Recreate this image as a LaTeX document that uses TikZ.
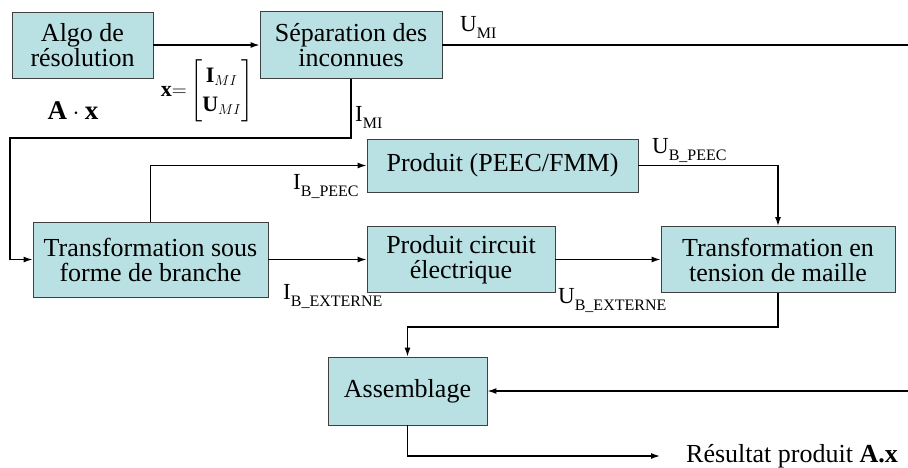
\documentclass[tikz,border=0pt]{standalone}
\usepackage{amsmath}
\usepackage{fontspec}
\setmainfont{Liberation Serif}
\usetikzlibrary{arrows.meta}
\definecolor{bloc}{RGB}{185,224,227}
\newcommand{\grandeur}[2]{#1\raisebox{-7pt}{\fontsize{16}{16}\selectfont #2}}

\begin{document}
\begin{tikzpicture}[x=1pt,y=-1pt,
  boite/.style={draw=black!75,fill=bloc,line width=0.9pt,align=center,inner sep=0pt,
    font=\fontsize{26}{25}\selectfont},
  fleche/.style={line width=1.3pt,-{Latex[length=9pt,width=6pt]}},
  fil/.style={line width=1.3pt},
  lbl/.style={anchor=base west,inner sep=0pt,font=\fontsize{23}{23}\selectfont}]
  \useasboundingbox (0,0) rectangle (908,467);
  % blocs
  \node[boite,minimum width=141,minimum height=66] (algo) at (82.5,45) {Algo de\\résolution};
  \node[boite,minimum width=182,minimum height=67] (sep) at (351,45) {Séparation des\\inconnues};
  \node[boite,minimum width=271,minimum height=53] (peec) at (502.5,165.5) {Produit (PEEC/FMM)};
  \node[boite,minimum width=235,minimum height=75] (branche) at (150.5,259.5) {Transformation sous\\forme de branche};
  \node[boite,minimum width=188,minimum height=66] (circ) at (461,259.5) {Produit circuit\\électrique};
  \node[boite,minimum width=234,minimum height=66] (maille) at (778,259.5) {Transformation en\\tension de maille};
  \node[boite,minimum width=159,minimum height=68] (assem) at (407.5,391) {Assemblage};
  % textes
  \node[font=\fontsize{27}{27}\selectfont,anchor=base] (ax) at (73,119) {$\mathbf{A}\cdot\mathbf{x}$};
  \node[font=\fontsize{22}{26}\selectfont] (vecx) at (207,91)
    {\renewcommand{\arraystretch}{1.1}$\mathbf{x}{=}\begin{bmatrix}\mathbf{I}_{MI}\\ \mathbf{U}_{MI}\end{bmatrix}$};
  \node[lbl] (umi) at (460,31) {\grandeur{U}{MI}};
  \node[lbl] (imi) at (355,121) {\grandeur{I}{MI}};
  \node[lbl] (ipeec) at (293,189) {\grandeur{I}{B\_PEEC}};
  \node[lbl] (iext) at (283,299) {\grandeur{I}{B\_EXTERNE}};
  \node[lbl] (upeec) at (652,153) {\grandeur{U}{B\_PEEC}};
  \node[lbl] (uext) at (558,303) {\grandeur{U}{B\_EXTERNE}};
  \node[lbl,font=\fontsize{26}{26}\selectfont] (res) at (686,462) {Résultat produit \textbf{A.x}};
  % liaisons
  \coordinate (finumi) at (908,45);
  \coordinate (retour) at (10,138);
  \coordinate (entree) at (908,391);
  \coordinate (sortie) at (660,456);
  \draw[fleche] (algo.east) -- (sep.west);
  \draw[fil] (sep.east) -- (finumi);
  \draw[fleche] (sep.south) |- (retour) |- (branche.west);
  \draw[fleche] (branche.north) |- (peec.west);
  \draw[fleche] (branche.east) -- (circ.west);
  \draw[fleche] (peec.east) -| (maille.north);
  \draw[fleche] (circ.east) -- (maille.west);
  \draw[fleche] (maille.south) -- ++(0,34) -| (assem.north);
  \draw[fleche] (entree) -- (assem.east);
  \draw[fleche] (assem.south) |- (sortie);
\end{tikzpicture}
\end{document}
